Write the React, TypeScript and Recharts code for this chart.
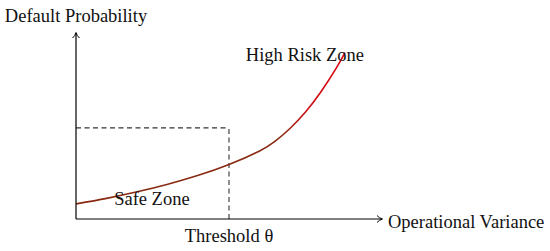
import React from 'react';
import { LineChart, Line, XAxis, YAxis, ReferenceLine, ReferenceDot } from 'recharts';

const varianceValues = [0, 1, 2, 3, 4, 5, 6, 6.5, 7, 7.5, 8, 8.5, 8.79];
const probabilityValues = [0.81, 1.11, 1.46, 1.87, 2.35, 2.93, 3.66, 4.17, 4.88, 5.75, 6.83, 8.1, 8.95];
const thresholdX = 5;
const thresholdY = 4.9;
const xTicks = [thresholdX];
const tickLabels = ['Threshold θ'];
const highRiskLabel = { x: 7.48, y: 8.87, text: 'High Risk Zone' };
const safeLabel = { x: 2.48, y: 1.08, text: 'Safe Zone' };

const data = varianceValues.map((v, i) => ({ x: v, y: probabilityValues[i] }));

const FONT = '"Liberation Serif", serif';
const FS = 18.5;

export default function App() {
  return (
    <div style={{ position: 'absolute', left: 0, top: 0, width: 550, height: 251, background: '#fff' }}>
      <LineChart width={550} height={251} data={data} margin={{ top: 33, right: 168, bottom: 2, left: 16 }}>
        <defs>
          <marker id="arr" markerWidth="8" markerHeight="8" refX="6" refY="4" orient="auto-start-reverse" markerUnits="userSpaceOnUse">
            <path d="M1,0.5 Q3,3 6.5,4 Q3,5 1,7.5" fill="none" stroke="#000" strokeWidth="1" />
          </marker>
          <linearGradient id="curveGrad" x1="0" y1="0" x2="1" y2="0">
            <stop offset="0" stopColor="#8a2a12" />
            <stop offset="0.76" stopColor="#8a2a12" />
            <stop offset="0.86" stopColor="#cc0d14" />
            <stop offset="1" stopColor="#d8000c" />
          </linearGradient>
        </defs>
        <XAxis
          type="number"
          dataKey="x"
          domain={[0, 10]}
          ticks={xTicks}
          tickFormatter={(v: number) => tickLabels[xTicks.indexOf(v)] ?? ''}
          tickLine={false}
          tickMargin={4}
          height={30}
          axisLine={{ stroke: '#000', strokeWidth: 1.2, markerEnd: 'url(#arr)' } as any}
          tick={{ fill: '#111', fontFamily: FONT, fontSize: FS }}
          allowDataOverflow
        />
        <YAxis
          type="number"
          domain={[0, 10]}
          width={60}
          tick={false}
          tickLine={false}
          axisLine={{ stroke: '#000', strokeWidth: 1.2, markerStart: 'url(#arr)' } as any}
          allowDataOverflow
        />
        <ReferenceLine segment={[{ x: 0, y: thresholdY }, { x: thresholdX, y: thresholdY }]} stroke="#333" strokeWidth={1.1} strokeDasharray="5 3.5" />
        <ReferenceLine segment={[{ x: thresholdX, y: 0 }, { x: thresholdX, y: thresholdY }]} stroke="#333" strokeWidth={1.1} strokeDasharray="5 3.5" />
        <Line type="natural" dataKey="y" stroke="url(#curveGrad)" strokeWidth={1.6} dot={false} isAnimationActive={false} />
        <ReferenceDot x={highRiskLabel.x} y={highRiskLabel.y} r={0} stroke="none" fill="none"
          label={{ value: highRiskLabel.text, position: 'center', fill: '#111', fontFamily: FONT, fontSize: FS }} />
        <ReferenceDot x={safeLabel.x} y={safeLabel.y} r={0} stroke="none" fill="none"
          label={{ value: safeLabel.text, position: 'center', fill: '#111', fontFamily: FONT, fontSize: FS }} />
        <ReferenceDot x={10} y={0} r={0} stroke="none" fill="none"
          label={{ value: 'Operational Variance', position: 'right', offset: 6, dy: 2, fill: '#111', fontFamily: FONT, fontSize: FS } as any} />
        <ReferenceDot x={0} y={10} r={0} stroke="none" fill="none"
          label={{ value: 'Default Probability', position: 'top', offset: 11, fill: '#111', fontFamily: FONT, fontSize: FS }} />
      </LineChart>
    </div>
  );
}
